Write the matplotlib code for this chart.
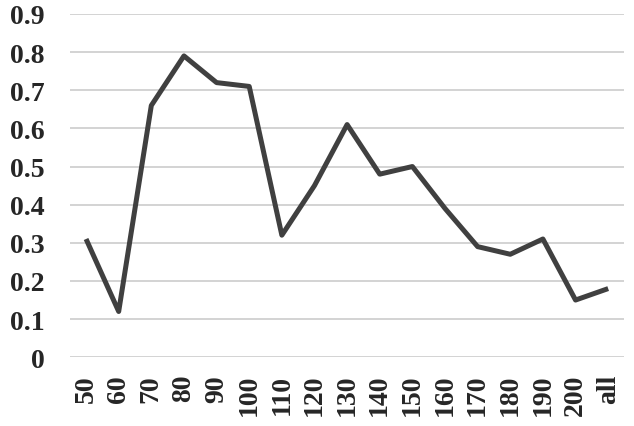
import numpy as np
import matplotlib.pyplot as plt

# datos
categorias = ["50", "60", "70", "80", "90", "100", "110", "120", "130",
              "140", "150", "160", "170", "180", "190", "200", "all"]
valores = [0.31, 0.12, 0.66, 0.79, 0.72, 0.71, 0.32, 0.45, 0.61,
           0.48, 0.50, 0.39, 0.29, 0.27, 0.31, 0.15, 0.18]
yticks = [0, 0.1, 0.2, 0.3, 0.4, 0.5, 0.6, 0.7, 0.8, 0.9]

plt.rcParams['font.family'] = ['Liberation Serif', 'DejaVu Serif']
plt.rcParams['font.weight'] = 'bold'

fig = plt.figure(figsize=(6.34, 4.27), dpi=100)
ax = fig.add_axes([0.110, 0.161, 0.875, 0.804])

x = np.arange(len(categorias))
ax.plot(x, valores, color="#404040", linewidth=3.6,
        solid_joinstyle="round", solid_capstyle="butt", zorder=3)

ax.set_xlim(-0.5, len(categorias) - 0.5)
ax.set_ylim(0, 0.9)
ax.set_yticks(yticks)
ax.set_yticklabels([("%g" % v) for v in yticks])
ax.set_xticks(x)
ax.set_xticklabels(categorias, rotation=90)

ax.grid(axis="y", color="#d0d0d0", linewidth=1.3)
ax.set_axisbelow(True)
for s in ax.spines.values():
    s.set_visible(False)
ax.tick_params(axis="both", length=0, labelsize=20, colors="#262626")
ax.tick_params(axis="y", pad=18)
ax.tick_params(axis="x", pad=12)

fig.savefig("out.png", dpi=100)
